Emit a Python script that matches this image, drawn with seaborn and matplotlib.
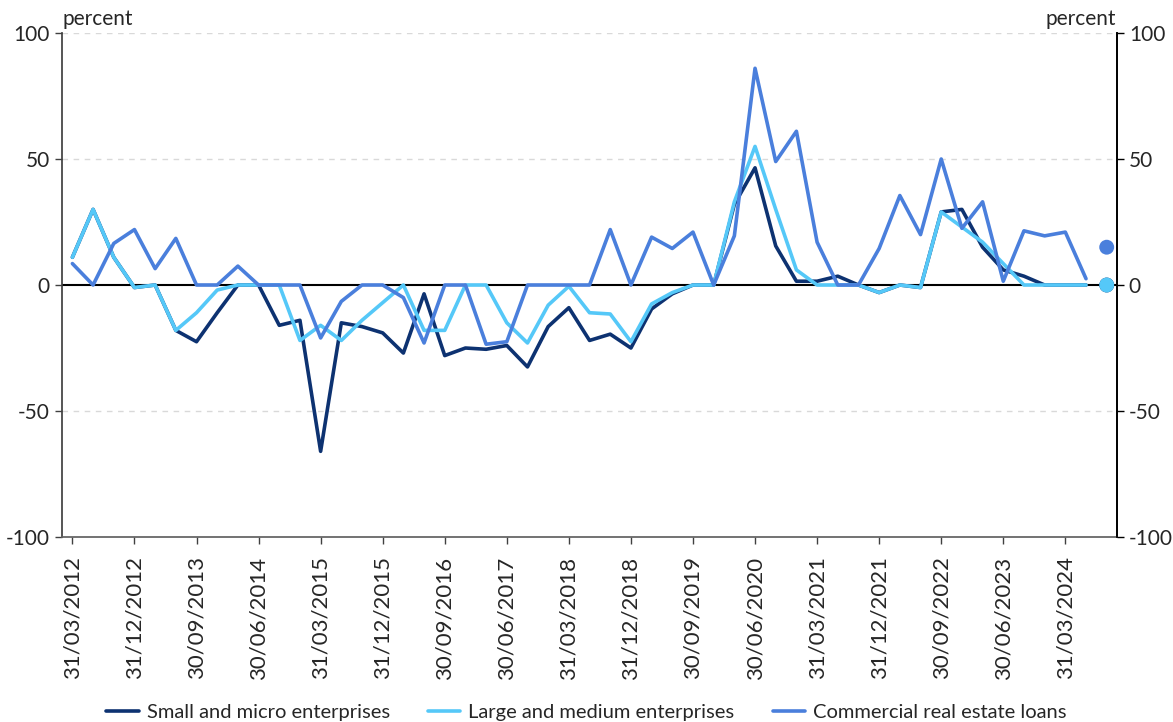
import numpy as np
import pandas as pd
import matplotlib
matplotlib.use("Agg")
import matplotlib.pyplot as plt
import seaborn as sns

# quarterly net percentages, 31/03/2012 onwards
small_micro = [11, 30, 11, -1, 0, -18, -22.5, -11, 0, 0,
               -16, -14, -66, -15, -16.5, -19, -27, -3.5, -28, -25,
               -25.5, -24, -32.5, -16.5, -9, -22, -19.5, -25, -9.5, -3.5,
               0, 0, 32, 46.5, 15.5, 1.5, 1.5, 3.5, 0, -3,
               0, -1, 29, 30, 15, 6, 3.5, 0, 0, 0]
large_medium = [11, 30, 11, -1, 0, -18, -11, -2, 0, 0,
                0, -22, -16, -22, -14, -7, 0, -18, -18, 0,
                0, -15, -23, -8, -0.5, -11, -11.5, -22.5, -7.5, -3,
                0, 0, 33, 55, 30, 6, 0, 0, 0, -3,
                0, -1, 29, 23, 17, 8.5, 0, 0, 0, 0]
commercial_re = [8.5, 0, 16.5, 22, 6.5, 18.5, 0, 0, 7.5, 0,
                 0, 0, -21, -6.5, 0, 0, -5, -23, 0, 0,
                 -23.5, -22.5, 0, 0, 0, 0, 22, 0, 19, 14.5,
                 21, 0, 19.5, 86, 49, 61, 17, 0, 0, 14.5,
                 35.5, 20, 50, 22.5, 33, 1.5, 21.5, 19.5, 21, 2.5]
# expected values for the next quarter (dots)
expected = {"Small and micro enterprises": 0,
            "Large and medium enterprises": 0,
            "Commercial real estate loans": 15}

names = ["Small and micro enterprises", "Large and medium enterprises",
         "Commercial real estate loans"]
colors = {"Small and micro enterprises": "#0d3271",
          "Large and medium enterprises": "#55c8f8",
          "Commercial real estate loans": "#4a7fdc"}

dates = pd.date_range("2012-03-31", periods=len(small_micro), freq="QE")
date_labels = [d.strftime("%d/%m/%Y") for d in dates]

df = pd.DataFrame({
    "q": np.tile(np.arange(len(dates)), 3),
    "value": small_micro + large_medium + commercial_re,
    "series": np.repeat(names, len(dates)),
})

sns.set_theme(style="white")
plt.rcParams["font.family"] = ["Lato", "DejaVu Sans"]

fig = plt.figure(figsize=(11.73, 7.22), dpi=100)
ax = fig.add_axes([0.0529, 0.2562, 0.8994, 0.6981])

sns.lineplot(data=df, x="q", y="value", hue="series", palette=colors,
             hue_order=names, linewidth=2.6, ax=ax, legend=True)

nq = len(dates)
for n in names:
    ax.scatter([nq], [expected[n]], s=115, color=colors[n], zorder=5,
               edgecolors="none")

ax.axhline(0, color="black", linewidth=1.5, zorder=1)
for v in [50, 100, -50]:
    ax.axhline(v, color="#d9d9d9", linewidth=1, linestyle=(0, (4, 4)), zorder=0)

ax.set_xlim(-0.5, nq + 0.5)
ax.set_ylim(-100, 100)
ax.set_yticks([-100, -50, 0, 50, 100])
ax.set_yticklabels(["-100", "-50", "0", "50", "100"], fontsize=15)
ax.set_xticks(np.arange(0, nq, 3))
ax.set_xticklabels(date_labels[::3], rotation=90, fontsize=16)
ax.set_xlabel("")
ax.set_ylabel("")
ax.tick_params(axis="both", direction="out", length=5, width=1, color="#404040",
               left=True, bottom=True, pad=4)
ax.tick_params(axis="x", pad=9)

ax.spines["top"].set_visible(False)
ax.spines["left"].set_color("#404040")
ax.spines["bottom"].set_color("#606060")
ax.spines["right"].set_color("black")

ax2 = ax.twinx()
ax2.set_ylim(-100, 100)
ax2.set_yticks([-100, -50, 0, 50, 100])
ax2.set_yticklabels(["-100", "-50", "0", "50", "100"], fontsize=15)
ax2.tick_params(axis="y", direction="out", length=5, width=1, color="black", right=True)
for s in ["top", "left", "bottom"]:
    ax2.spines[s].set_visible(False)
ax2.spines["right"].set_color("black")

fig.text(0.0537, 0.965, "percent", fontsize=15, ha="left", va="baseline")
fig.text(0.951, 0.965, "percent", fontsize=15, ha="right", va="baseline")

handles, labels = ax.get_legend_handles_labels()
ax.legend_.remove()
fig.legend(handles, labels, loc="center", bbox_to_anchor=(0.5, 0.013),
           ncol=3, frameon=False, fontsize=14.5, handlelength=1.6,
           columnspacing=1.9, handletextpad=0.4)

fig.savefig("out.png", dpi=100)
